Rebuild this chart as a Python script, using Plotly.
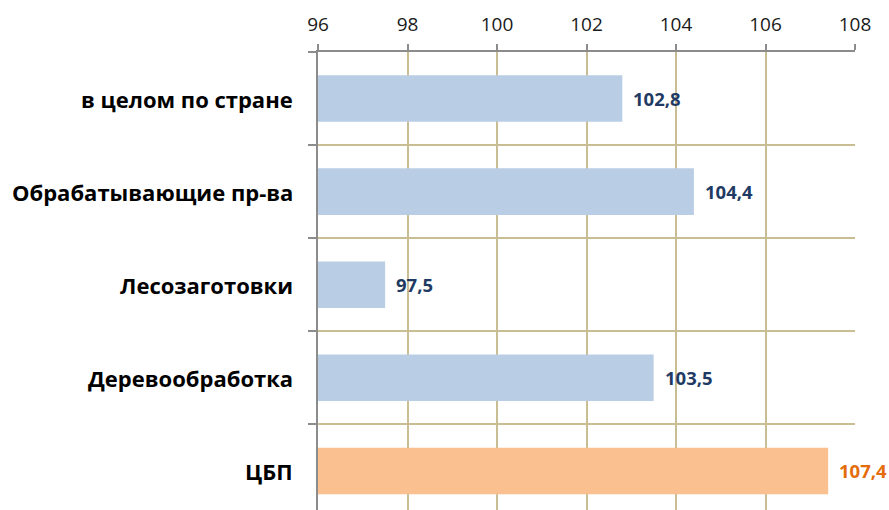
import plotly.graph_objects as go

categories = ["в целом по стране", "Обрабатывающие пр-ва", "Лесозаготовки", "Деревообработка", "ЦБП"]
values = [102.8, 104.4, 97.5, 103.5, 107.4]
value_labels = ["102,8", "104,4", "97,5", "103,5", "107,4"]
bar_colors = ["#b9cde5", "#b9cde5", "#b9cde5", "#b9cde5", "#fac090"]
label_colors = ["#1f3b63", "#1f3b63", "#1f3b63", "#1f3b63", "#e46c0a"]
x_ticks = [96, 98, 100, 102, 104, 106, 108]

base = 96
pos = list(range(len(categories)))

fig = go.Figure()
fig.add_trace(go.Bar(
    y=pos, x=[v - base for v in values], base=base, orientation="h",
    marker=dict(color=bar_colors, line=dict(width=0)), width=0.5,
    hoverinfo="skip", showlegend=False,
))

font_family = "Open Sans, Liberation Sans, sans-serif"

for i, (v, t, c) in enumerate(zip(values, value_labels, label_colors)):
    fig.add_annotation(x=v, y=i, text=f"<b>{t}</b>", showarrow=False, xanchor="left",
                       xshift=9, font=dict(size=18.5, color=c, family=font_family))

for i, cat in enumerate(categories):
    fig.add_annotation(x=0, xref="paper", y=i, text=f"<b>{cat}</b>", showarrow=False,
                       xanchor="right", xshift=-23, font=dict(size=22, color="#000000", family=font_family))

fig.update_layout(
    width=889, height=510,
    margin=dict(l=318, r=34, t=52, b=0),
    plot_bgcolor="white", paper_bgcolor="white",
    bargap=0.5,
    xaxis=dict(
        side="top", range=[96, 108], tickvals=x_ticks, ticktext=[str(t) for t in x_ticks],
        showgrid=True, gridcolor="#c9bd93", gridwidth=2,
        showline=True, linecolor="#8c8c8c", linewidth=2,
        ticks="outside", ticklen=6, tickcolor="#8c8c8c", tickwidth=2,
        ticklabelstandoff=5,
        tickfont=dict(size=19, color="#1a1a1a", family=font_family),
        zeroline=False, fixedrange=True,
    ),
    yaxis=dict(
        range=[4.42, -0.5], tickvals=[-0.5, 0.5, 1.5, 2.5, 3.5, 4.5], showticklabels=False,
        showgrid=True, gridcolor="#c9bd93", gridwidth=2,
        showline=True, linecolor="#8c8c8c", linewidth=2,
        ticks="outside", ticklen=8, tickcolor="#8c8c8c", tickwidth=2,
        zeroline=False, fixedrange=True,
    ),
)

fig.write_html(
    "out.html",
    config={"displayModeBar": False, "staticPlot": True},
    post_script="document.body.style.margin='0';document.body.style.padding='0';document.body.style.overflow='hidden';document.documentElement.style.overflow='hidden';",
)
